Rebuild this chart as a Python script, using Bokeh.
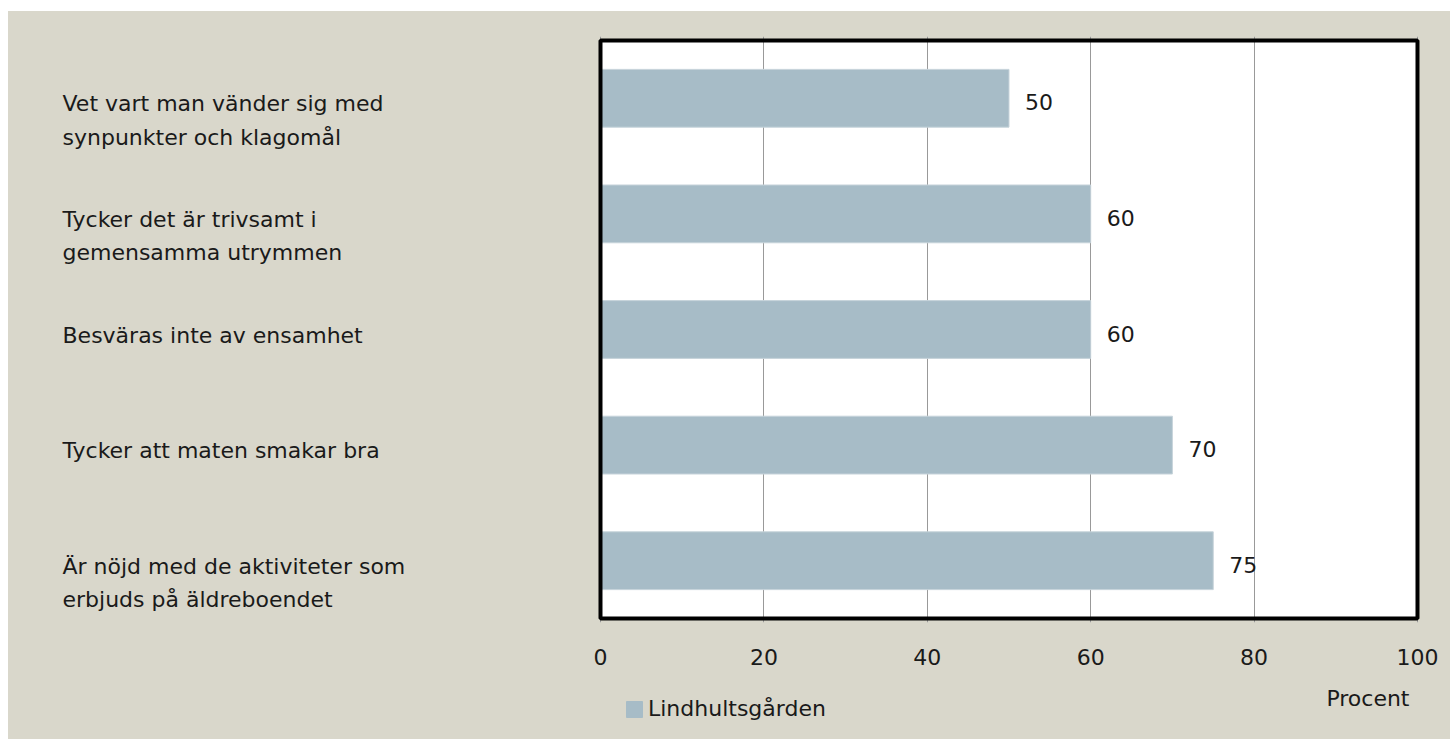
from bokeh.plotting import figure
from bokeh.layouts import column
from bokeh.models import FactorRange, Range1d, FixedTicker, Legend, LegendItem, ColumnDataSource
from bokeh.core.properties import value
from bokeh.embed import file_html
from bokeh.resources import INLINE

categories = [
    "Vet vart man vänder sig med\nsynpunkter och klagomål",
    "Tycker det är trivsamt i\ngemensamma utrymmen",
    "Besväras inte av ensamhet",
    "Tycker att maten smakar bra",
    "Är nöjd med de aktiviteter som\nerbjuds på äldreboendet",
]
values = [50, 60, 60, 70, 75]
series_name = "Lindhultsgården"
x_ticks = [0, 20, 40, 60, 80, 100]
x_title = "Procent"

BG = "#d9d7cb"
BAR = "#a7bcc7"
FONT = "DejaVu Sans"
TXT = "#1a1a1a"
W = 1442

x_range = Range1d(-72.46, 104.04)
y_range = FactorRange(factors=list(reversed(categories)), range_padding=0.0344,
                      range_padding_units="absolute")
p = figure(width=W, height=664, output_backend="svg", toolbar_location=None,
           x_range=x_range, y_range=y_range,
           y_axis_location=None, x_axis_location="below",
           min_border_left=0, min_border_right=0, min_border_top=25, min_border_bottom=53,
           styles={"background-color": BG})
p.background_fill_color = BG
p.border_fill_color = BG
p.outline_line_color = None

# white plot area
p.quad(left=[x_ticks[0]], right=[x_ticks[-1]], bottom=[0], top=[len(categories)],
       fill_color="white", line_color=None, level="image")

src = ColumnDataSource(dict(cat=categories, val=values, txt=[str(v) for v in values]))
bars = p.hbar(y="cat", left=0, right="val", height=0.5, source=src,
              fill_color=BAR, line_color="#c6d3da", line_width=1)

# frame border
p.quad(left=[x_ticks[0]], right=[x_ticks[-1]], bottom=[0], top=[len(categories)],
       fill_color=None, line_color="black", line_width=4)

# value labels
p.text(x="val", y="cat", text="txt", source=src, x_offset=16, y_offset=4,
       text_font=value(FONT), text_font_size="22px", text_color=TXT,
       text_baseline="middle", text_align="left")

# category labels
p.text(x=[-65.85] * len(categories), y=categories, text=categories, y_offset=-7,
       text_font=value(FONT), text_font_size="22px", text_color=TXT,
       text_baseline="top", text_align="left", text_line_height=1.33)

p.xaxis.ticker = FixedTicker(ticks=x_ticks)
p.xaxis.axis_line_color = None
p.xaxis.major_tick_line_color = None
p.xaxis.minor_tick_line_color = None
p.xaxis.major_label_text_font = FONT
p.xaxis.major_label_text_font_size = "22px"
p.xaxis.major_label_text_color = TXT
p.xaxis.major_label_standoff = 20

p.xgrid.ticker = FixedTicker(ticks=x_ticks)
p.xgrid.grid_line_color = "#999999"
p.xgrid.grid_line_width = 1
p.ygrid.grid_line_color = None

# bottom strip: axis title and legend
p2 = figure(width=W, height=64, output_backend="svg", toolbar_location=None,
            x_range=x_range, y_range=Range1d(0, 64),
            x_axis_location=None, y_axis_location=None,
            min_border_left=0, min_border_right=0, min_border_top=0, min_border_bottom=0,
            styles={"background-color": BG})
p2.background_fill_color = BG
p2.border_fill_color = BG
p2.outline_line_color = None
p2.grid.grid_line_color = None

p2.text(x=[x_ticks[-1]], y=[41], text=[x_title], x_offset=-8,
        text_font=value(FONT), text_font_size="22px", text_color=TXT,
        text_baseline="middle", text_align="right")

# legend swatch renderer, kept outside the visible strip
swatch = p2.hbar(y=[-50], left=[0], right=[values[0]], height=1,
                 fill_color=BAR, line_color=BAR, line_width=1)
legend = Legend(items=[LegendItem(label=series_name, renderers=[swatch])],
                location=(616, 18), padding=0, margin=0, spacing=0,
                glyph_width=20, glyph_height=20, label_standoff=4,
                label_text_font=FONT, label_text_font_size="22px", label_text_color=TXT,
                border_line_color=None, background_fill_alpha=0)
p2.add_layout(legend, "center")

layout = column(p, p2, spacing=0, margin=(11, 0, 0, 8), styles={"background-color": BG})
open("out.html", "w").write(file_html(layout, INLINE))
